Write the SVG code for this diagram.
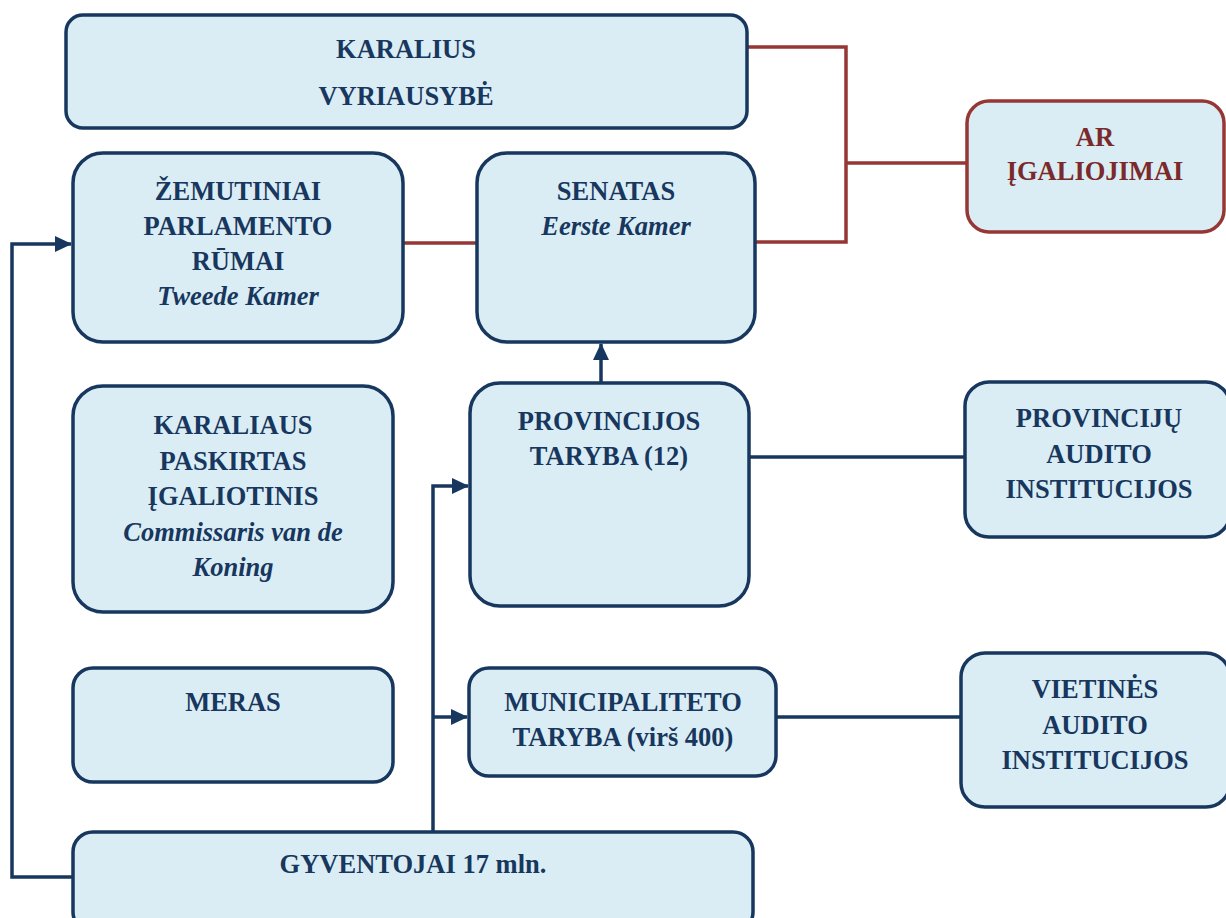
<svg xmlns="http://www.w3.org/2000/svg" width="1226" height="918" viewBox="0 0 1226 918">
<style>
.box{fill:#dbedf4;stroke:#17375e;stroke-width:3.5}
.rbox{fill:#dbedf4;stroke:#953735;stroke-width:3.5}
.t{font-family:"Liberation Serif","Times New Roman",serif;font-size:26.5px;font-weight:bold;fill:#17375e;text-anchor:middle}
.i{font-style:italic}
.rt{fill:#7a2a2a}
.c{fill:none;stroke:#17375e;stroke-width:3.5}
.rc{fill:none;stroke:#953735;stroke-width:3.5}
</style>
<defs>
<marker id="ah" viewBox="0 0 17 16" refX="16" refY="8" markerWidth="17" markerHeight="16" markerUnits="userSpaceOnUse" orient="auto">
<path d="M0,0 L17,8 L0,16 z" fill="#17375e"/>
</marker>
</defs>
<rect width="1226" height="918" fill="#ffffff"/>
<g id="connectors">
<path class="rc" d="M747,47 H846 V242 H755"/>
<path class="rc" d="M846,163 H966"/>
<path class="rc" d="M403,243 H477"/>
<path class="c" d="M73,877 H12 V244 H71" marker-end="url(#ah)"/>
<path class="c" d="M433,832 V486 H468" marker-end="url(#ah)"/>
<path class="c" d="M433,717 H467" marker-end="url(#ah)"/>
<path class="c" d="M601,383 V344" marker-end="url(#ah)"/>
<path class="c" d="M749,457 H966"/>
<path class="c" d="M776,717 H962"/>
</g>
<g id="karalius">
<rect class="box" x="66" y="15" width="681" height="113" rx="17"/>
<text class="t" x="406" y="58">KARALIUS</text>
<text class="t" x="406" y="105">VYRIAUSYBĖ</text>
</g>
<g id="zemutiniai">
<rect class="box" x="73" y="153" width="330" height="189" rx="30"/>
<text class="t" x="238" y="200">ŽEMUTINIAI</text>
<text class="t" x="238" y="235">PARLAMENTO</text>
<text class="t" x="238" y="270">RŪMAI</text>
<text class="t i" x="238" y="305">Tweede Kamer</text>
</g>
<g id="senatas">
<rect class="box" x="477" y="153" width="278" height="189" rx="30"/>
<text class="t" x="616" y="200">SENATAS</text>
<text class="t i" x="616" y="235">Eerste Kamer</text>
</g>
<g id="ar">
<rect class="rbox" x="967" y="101" width="257" height="131" rx="22"/>
<text class="t rt" x="1095" y="146">AR</text>
<text class="t rt" x="1095" y="180">ĮGALIOJIMAI</text>
</g>
<g id="komisaras">
<rect class="box" x="73" y="386" width="320" height="226" rx="30"/>
<text class="t" x="233" y="434">KARALIAUS</text>
<text class="t" x="233" y="470">PASKIRTAS</text>
<text class="t" x="233" y="505">ĮGALIOTINIS</text>
<text class="t i" x="233" y="541">Commissaris van de</text>
<text class="t i" x="233" y="576">Koning</text>
</g>
<g id="provincijos">
<rect class="box" x="470" y="383" width="279" height="223" rx="30"/>
<text class="t" x="609" y="430">PROVINCIJOS</text>
<text class="t" x="609" y="465">TARYBA (12)</text>
</g>
<g id="provinciju-audito">
<rect class="box" x="965" y="382" width="265" height="155" rx="24"/>
<text class="t" x="1099" y="427">PROVINCIJŲ</text>
<text class="t" x="1099" y="463">AUDITO</text>
<text class="t" x="1099" y="498">INSTITUCIJOS</text>
</g>
<g id="meras">
<rect class="box" x="73" y="668" width="320" height="114" rx="20"/>
<text class="t" x="233" y="711">MERAS</text>
</g>
<g id="municipaliteto">
<rect class="box" x="469" y="668" width="307" height="108" rx="20"/>
<text class="t" x="623" y="711">MUNICIPALITETO</text>
<text class="t" x="623" y="746">TARYBA (virš 400)</text>
</g>
<g id="vietines-audito">
<rect class="box" x="961" y="653" width="269" height="154" rx="24"/>
<text class="t" x="1095" y="698">VIETINĖS</text>
<text class="t" x="1095" y="734">AUDITO</text>
<text class="t" x="1095" y="769">INSTITUCIJOS</text>
</g>
<g id="gyventojai">
<rect class="box" x="73" y="832" width="680" height="100" rx="20"/>
<text class="t" x="413" y="873">GYVENTOJAI 17 mln.</text>
</g>
</svg>
